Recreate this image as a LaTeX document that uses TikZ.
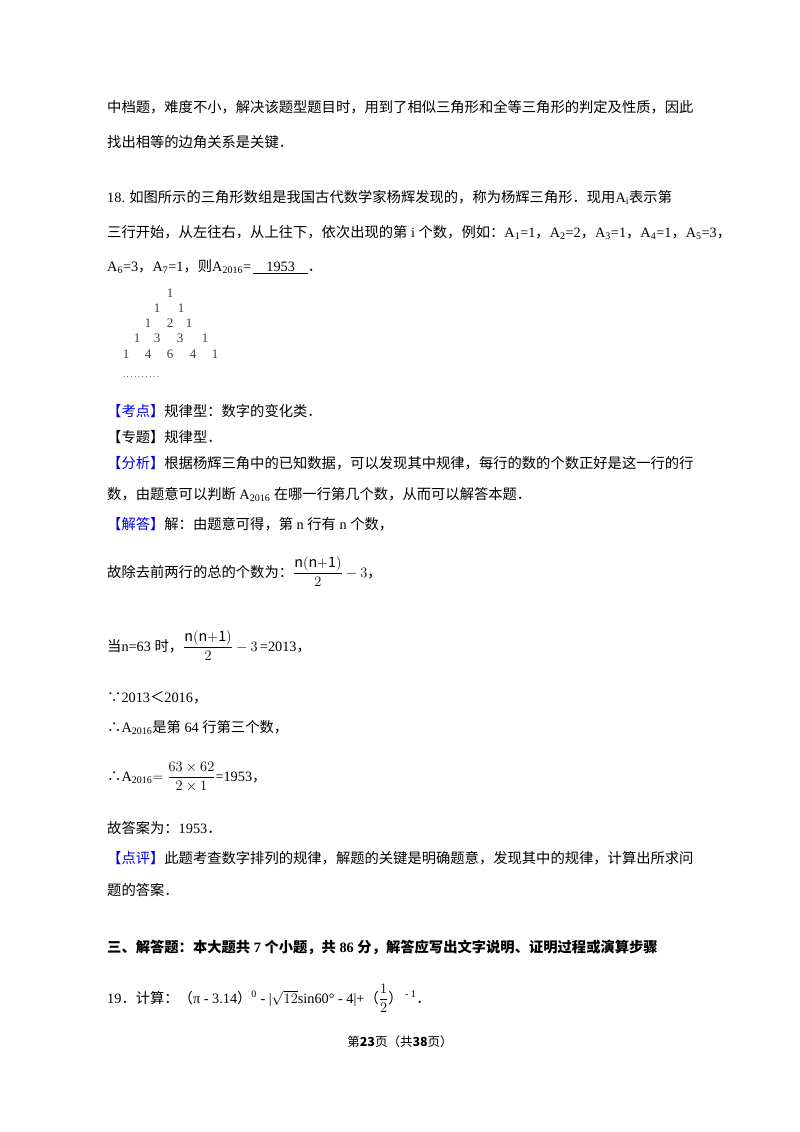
\documentclass[tikz,border=0pt]{standalone}
\usepackage{amsmath}
\usepackage{fontspec}
\setmainfont{Noto Sans CJK SC}
\newfontfamily\lat{Liberation Serif}
\definecolor{kb}{RGB}{0,0,230}
\begin{document}
\begin{tikzpicture}[x=1pt,y=-1pt,
  t/.style={anchor=base west,inner sep=0pt,font=\fontsize{14.3}{17}\selectfont},
  tri/.style={anchor=base,inner sep=0pt,text=black!75,font=\lat\fontsize{13}{15}\selectfont}]
\useasboundingbox (0,0) rectangle (800,1132);
\newcommand\B[1]{\textcolor{kb}{【#1】}}
\node[t] (l1) at (107,112) {中档题，难度不小，解决该题型题目时，用到了相似三角形和全等三角形的判定及性质，因此};
\node[t] (l2) at (107,147) {找出相等的边角关系是关键．};
\node[t] (l3) at (107,202) {{\lat 18.} 如图所示的三角形数组是我国古代数学家杨辉发现的，称为杨辉三角形．现用{\lat A\textsubscript{i}}表示第};
\node[t] (l4) at (107,237) {三行开始，从左往右，从上往下，依次出现的第{\lat~i~}个数，例如：{\lat A\textsubscript{1}=1}，{\lat A\textsubscript{2}=2}，{\lat A\textsubscript{3}=1}，{\lat A\textsubscript{4}=1}，{\lat A\textsubscript{5}=3}，};
\node[t] (l5) at (107,271) {{\lat A\textsubscript{6}=3}，{\lat A\textsubscript{7}=1}，则{\lat A\textsubscript{2016}=\,\underline{\hspace{0.9em}1953\hspace{0.9em}}}．};
% triangle
\node[tri] (r1) at (170,297) {1};
\node[tri] (r21) at (157,312) {1}; \node[tri] (r22) at (181,312) {1};
\node[tri] (r31) at (148,327) {1}; \node[tri] (r32) at (170,327) {2}; \node[tri] (r33) at (189,327) {1};
\node[tri] (r41) at (137,342) {1}; \node[tri] (r42) at (157,342) {3}; \node[tri] (r43) at (180,342) {3}; \node[tri] (r44) at (205,342) {1};
\node[tri] (r51) at (126,358) {1}; \node[tri] (r52) at (148,358) {4}; \node[tri] (r53) at (170,358) {6}; \node[tri] (r54) at (193,358) {4}; \node[tri] (r55) at (215,358) {1};
\node[tri,font=\lat\fontsize{9}{9}\selectfont] (dots) at (141,377) {.\,.\,.\,.\,.\,.\,.\,.\,.\,.};
\node[t] (kd) at (107,416) {\B{考点}规律型：数字的变化类．};
\node[t] (zt) at (107,442) {【专题】规律型．};
\node[t] (fx) at (107,468) {\B{分析}根据杨辉三角中的已知数据，可以发现其中规律，每行的数的个数正好是这一行的行};
\node[t] (fx2) at (107,499) {数，由题意可以判断{\lat~A\textsubscript{2016}~}在哪一行第几个数，从而可以解答本题．};
\node[t] (jd) at (107,529) {\B{解答}解：由题意可得，第{\lat~n~}行有{\lat~n~}个数，};
\node[t] (g1) at (107,577) {故除去前两行的总的个数为：$\dfrac{\mathrm{n(n{+}1)}}{2}-3$，};
\node[t] (g2) at (107,651) {当{\lat n=63~}时，$\dfrac{\mathrm{n(n{+}1)}}{2}-3$\,{\lat =2013}，};
\node[t] (g3) at (107,702) {∵{\lat 2013}＜{\lat 2016}，};
\node[t] (g4) at (107,732) {∴{\lat A\textsubscript{2016}}是第{\lat~64~}行第三个数，};
\node[t] (g5) at (107,781) {∴{\lat A\textsubscript{2016}}$=\dfrac{63\times62}{2\times1}${\lat =1953}，};
\node[t] (g6) at (107,833) {故答案为：{\lat 1953}．};
\node[t] (dp) at (107,863) {\B{点评}此题考查数字排列的规律，解题的关键是明确题意，发现其中的规律，计算出所求问};
\node[t] (dp2) at (107,895) {题的答案．};
\node[t] (s3) at (107,952) {\bfseries 三、解答题：本大题共{\lat\bfseries~7~}个小题，共{\lat\bfseries~86~}分，解答应写出文字说明、证明过程或演算步骤};
\node[t] (q19) at (107,1003) {{\lat 19}．计算：（{\lat π - 3.14}）{\lat\textsuperscript{0} - |}$\sqrt{12}${\lat sin60° - 4|+}（$\dfrac{1}{2}$）{\lat\textsuperscript{ - 1}}．};
\node[anchor=base,inner sep=0pt,font=\fontsize{12.5}{14}\selectfont] (ft) at (400,1046) {第\textbf{23}页（共\textbf{38}页）};
\end{tikzpicture}
\end{document}
